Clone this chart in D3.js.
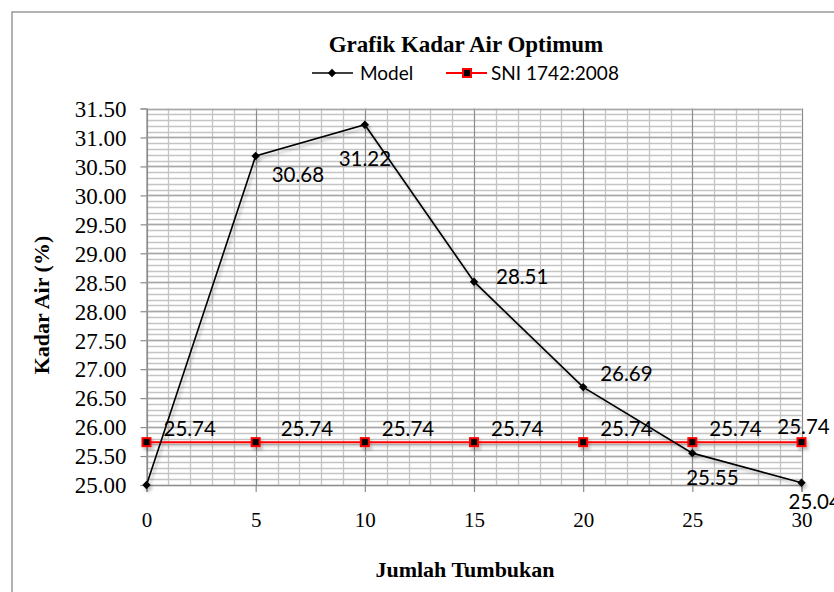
<!DOCTYPE html>
<meta charset="utf-8">
<style>
body { margin: 0; background: #fff; }
.tick-y, .tick-x { font-family: "Liberation Serif", "Times New Roman", serif; fill: #000; }
.title { font-family: "Liberation Serif", "Times New Roman", serif; font-weight: bold; fill: #000; }
.lbl { font-family: Lato, "Liberation Sans", sans-serif; fill: #000; }
</style>
<svg width="834" height="592"></svg>
<script src="https://cdn.jsdelivr.net/npm/d3@7"></script>
<script>

// data
var tumbukan = [0, 5, 10, 15, 20, 25, 30];
var model = [25.00, 30.68, 31.22, 28.51, 26.69, 25.55, 25.04];
var sni = [25.74, 25.74, 25.74, 25.74, 25.74, 25.74, 25.74];
var xTicks = [0, 5, 10, 15, 20, 25, 30];
var yTicks = [25.00, 25.50, 26.00, 26.50, 27.00, 27.50, 28.00, 28.50, 29.00, 29.50, 30.00, 30.50, 31.00, 31.50];
var seriesNames = ["Model", "SNI 1742:2008"];

// where each data label sits relative to its point (Excel manual placement)
var modelLabelPos = [null, "rb", "b", "r", "ra", "b2", "rb2"];
var sniLabelPos = ["ra", "ra2", "ra", "ra", "ra", "ra", "a"];
var placement = {
  r:   { dx: 22, dy: 2,  anchor: "start" },
  ra:  { dx: 17, dy: -6, anchor: "start" },
  ra2: { dx: 25, dy: -6, anchor: "start" },
  rb:  { dx: 16, dy: 26, anchor: "start" },
  rb2: { dx: -13, dy: 26, anchor: "start" },
  b:   { dx: 0,  dy: 41, anchor: "middle" },
  b2:  { dx: 20, dy: 32, anchor: "middle" },
  a:   { dx: 2,  dy: -8, anchor: "middle" }
};

var svg = d3.select("svg");

var x = d3.scaleLinear().domain([0, 30]).range([146.5, 801.5]);
var y = d3.scaleLinear().domain([25, 31.5]).range([485, 108.5]);

// soft shadow like the excel line effect
var defs = svg.append("defs");
var f = defs.append("filter").attr("id", "shadow")
    .attr("x", "-20%").attr("y", "-20%").attr("width", "140%").attr("height", "140%");
f.append("feDropShadow").attr("dx", 2).attr("dy", 3).attr("stdDeviation", 1.6)
    .attr("flood-color", "#000").attr("flood-opacity", 0.25);

// outer chart border
svg.append("rect")
    .attr("x", 12).attr("y", 12).attr("width", 840).attr("height", 600)
    .attr("fill", "none").attr("stroke", "#9a9a9a").attr("stroke-width", 1.5);

// minor grid
var grid = svg.append("g");
grid.selectAll(".hminor")
    .data(d3.range(0, 66).map(function(i) { return 25 + i * 0.1; }))
    .enter().append("line")
    .attr("x1", x(0)).attr("x2", x(30))
    .attr("y1", function(d) { return Math.round(y(d)) + 0.5; })
    .attr("y2", function(d) { return Math.round(y(d)) + 0.5; })
    .attr("stroke", "#c4c4c4").attr("stroke-width", 1.3);

grid.selectAll(".vminor")
    .data(d3.range(0, 31))
    .enter().append("line")
    .attr("x1", function(d) { return Math.round(x(d)) + 0.5; })
    .attr("x2", function(d) { return Math.round(x(d)) + 0.5; })
    .attr("y1", y(31.5)).attr("y2", y(25))
    .attr("stroke", function(d) { return d % 5 === 0 ? "#8c8c8c" : "#c4c4c4"; })
    .attr("stroke-width", function(d) { return d % 5 === 0 ? 1.2 : 1.3; });

grid.selectAll(".hmajor")
    .data(yTicks)
    .enter().append("line")
    .attr("x1", x(0)).attr("x2", x(30))
    .attr("y1", function(d) { return Math.round(y(d)) + 0.5; })
    .attr("y2", function(d) { return Math.round(y(d)) + 0.5; })
    .attr("stroke", "#a8a8a8").attr("stroke-width", 1.3);

// axes
var yAxis = d3.axisLeft(y).tickValues(yTicks).tickFormat(d3.format(".2f")).tickSize(6).tickPadding(14);
var gy = svg.append("g").attr("transform", "translate(" + x(0) + ",0)").call(yAxis);
gy.select(".domain").attr("stroke", "#8c8c8c").attr("stroke-width", 1.2);
gy.selectAll(".tick line").attr("stroke", "#8c8c8c").attr("stroke-width", 1.2);
gy.selectAll(".tick text").attr("class", "tick-y").attr("font-size", 23).attr("dy", "0.34em");

var xAxis = d3.axisBottom(x).tickValues(xTicks).tickSize(7).tickPadding(24);
var gx = svg.append("g").attr("transform", "translate(0," + y(25) + ")").call(xAxis);
gx.select(".domain").attr("stroke", "#8c8c8c").attr("stroke-width", 1.2);
gx.selectAll(".tick line").attr("stroke", "#8c8c8c").attr("stroke-width", 1.2);
gx.selectAll(".tick text").attr("class", "tick-x").attr("font-size", 21).attr("dy", "0.5em");
svg.selectAll(".domain, .tick text").attr("font-family", null);
svg.selectAll("g").attr("font-family", null).attr("font-size", function() { return this.getAttribute("font-size") === "10" ? null : this.getAttribute("font-size"); });

// series
var line = d3.line()
    .x(function(d, i) { return x(tumbukan[i]); })
    .y(function(d) { return y(d); });

var series = svg.append("g").attr("filter", "url(#shadow)");

series.append("path").datum(sni)
    .attr("d", line).attr("fill", "none")
    .attr("stroke", "#ff0000").attr("stroke-width", 2);

series.append("path").datum(model)
    .attr("d", line).attr("fill", "none")
    .attr("stroke", "#000").attr("stroke-width", 1.6);

var diamond = d3.symbol().type(d3.symbolDiamond2).size(45);

series.selectAll(".mdot")
    .data(model).enter().append("path")
    .attr("d", diamond)
    .attr("transform", function(d, i) { return "translate(" + x(tumbukan[i]) + "," + y(d) + ")"; })
    .attr("fill", "#000");

series.selectAll(".sdot")
    .data(sni).enter().append("rect")
    .attr("x", function(d, i) { return x(tumbukan[i]) - 4; })
    .attr("y", function(d) { return y(d) - 4; })
    .attr("width", 8).attr("height", 8)
    .attr("fill", "#000").attr("stroke", "#ff0000").attr("stroke-width", 2);

// data labels
function addLabels(values, pos) {
  var items = values.map(function(v, i) { return { x: tumbukan[i], v: v, p: placement[pos[i]] }; })
      .filter(function(d) { return d.p; });
  svg.append("g").selectAll("text")
    .data(items).enter().append("text")
    .attr("class", "lbl")
    .attr("font-size", 20.5)
    .attr("x", function(d) { return x(d.x) + d.p.dx; })
    .attr("y", function(d) { return y(d.v) + d.p.dy; })
    .attr("text-anchor", function(d) { return d.p.anchor; })
    .text(function(d) { return d.v.toFixed(2); });
}
addLabels(model, modelLabelPos);
addLabels(sni, sniLabelPos);

// titles
svg.append("text").attr("class", "title")
    .attr("x", 466).attr("y", 52).attr("text-anchor", "middle")
    .attr("font-size", 23)
    .text("Grafik Kadar Air  Optimum");

svg.append("text").attr("class", "title")
    .attr("x", 465).attr("y", 577).attr("text-anchor", "middle")
    .attr("font-size", 22)
    .text("Jumlah Tumbukan");

svg.append("text").attr("class", "title")
    .attr("transform", "translate(49,305) rotate(-90)")
    .attr("text-anchor", "middle")
    .attr("font-size", 22)
    .text("Kadar Air (%)");

// legend
var legend = svg.append("g").attr("transform", "translate(0,73)");

legend.append("line").attr("x1", 312).attr("x2", 353).attr("y1", 0).attr("y2", 0)
    .attr("stroke", "#000").attr("stroke-width", 1.6);
legend.append("path").attr("d", diamond).attr("transform", "translate(332,0)").attr("fill", "#000");
legend.append("text").attr("class", "lbl").attr("x", 360).attr("y", 7)
    .attr("font-size", 19).text(seriesNames[0]);

legend.append("line").attr("x1", 446).attr("x2", 487).attr("y1", 0).attr("y2", 0)
    .attr("stroke", "#ff0000").attr("stroke-width", 2);
legend.append("rect").attr("x", 463).attr("y", -4).attr("width", 8).attr("height", 8)
    .attr("fill", "#000").attr("stroke", "#ff0000").attr("stroke-width", 2);
legend.append("text").attr("class", "lbl").attr("x", 491).attr("y", 7)
    .attr("font-size", 19).text(seriesNames[1]);

</script>
